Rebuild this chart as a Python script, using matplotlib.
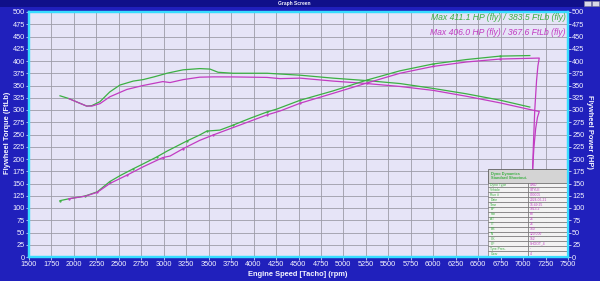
import numpy as np
import matplotlib
matplotlib.use("Agg")
from matplotlib import pyplot as plt
from matplotlib.patches import Rectangle

plt.rcParams['font.family'] = ['Liberation Sans', 'DejaVu Sans']

# green run (max 411.1 HP / 383.5 FtLb)
g_tq_rpm = [1845, 1950, 2050, 2142, 2200, 2290, 2400, 2513, 2660, 2770, 2900, 3036,
            3215, 3400, 3515, 3605, 3770, 4150, 4520, 4885, 5260, 5630, 6000, 6370,
            6745, 7075]
g_tq = [329, 323, 315, 308, 309, 317, 337, 351, 359, 362, 368, 375,
        382, 384.5, 383.5, 377, 375, 375, 371, 365, 360, 354, 344, 333,
        320, 306]
g_hp_rpm = [1845, 1950, 2125, 2260, 2400, 2513, 2660, 2770, 2920, 3036, 3260, 3400,
            3480, 3625, 3770, 3960, 4150, 4260, 4520, 4885, 5260, 5630, 6000, 6370,
            6745, 7075]
g_hp = [115, 119, 124.5, 133, 154, 166, 180, 190, 204, 216, 237, 249,
        257, 259, 269, 283, 296, 302, 320, 339, 361, 380, 394, 403,
        410, 411.1]

# magenta run (max 406.0 HP / 367.6 FtLb)
m_tq_rpm = [1945, 2050, 2142, 2200, 2290, 2400, 2590, 2770, 2990, 3070, 3215, 3400,
            3550, 3770, 4150, 4295, 4520, 4885, 5260, 5630, 6000, 6370, 6745, 7075,
            7180, 7160, 7140, 7120, 7100, 7090]
m_tq = [323, 315, 308, 308, 313, 327, 342, 350, 358, 356, 362, 367,
        367.6, 367.5, 366.5, 364, 365, 359, 354, 348, 340, 328, 314.5, 301,
        297, 285, 262, 222, 160, 100]
m_hp_rpm = [1945, 2125, 2260, 2400, 2590, 2770, 2990, 3070, 3215, 3400, 3550, 3770,
            4150, 4295, 4520, 4885, 5260, 5630, 6000, 6370, 6745, 7075, 7180, 7165,
            7150, 7130, 7115, 7105, 7100]
m_hp = [119, 124, 132, 150, 167, 184, 203, 206, 221, 238, 249, 264,
        290, 298, 314, 334, 355, 375, 389, 398, 404, 405.5, 406, 390,
        360, 300, 230, 170, 100]

legend_lines = ["Max 411.1 HP (fly) / 383.5 FtLb (fly)",
                "Max 406.0 HP (fly) / 367.6 FtLb (fly)"]

table_labels = ["Dyno Type", "Vehicle", "Run #", "Date", "Time", "BP", "Hm", "AT",
                "IT", "BB", "IN", "CK", "CF", "Tyre Pres.", "Gear"]
table_values = ["4WD", "STYLE", "000005", "2024-06-21", "15:49:25", "1013.2", "60",
                "26", "26", "150", "120.000", "152", "SHOOT_4", "-", "4"]

green = '#3cb043'
magenta = '#c23cc2'
bg_blue = '#2020bc'
cyan = '#38dcff'
white = '#f4f4ff'

fig = plt.figure(figsize=(6, 2.81), dpi=100, facecolor=bg_blue)
ax = fig.add_axes([29/600, 24/281, 539/600, 245/281])
ax.set_facecolor('#e6e4f7')

# title bar
fig.patches.append(Rectangle((0, 274/281), 1, 7/281, transform=fig.transFigure,
                             facecolor='#10108a', edgecolor='none', zorder=0))
fig.text(0.49, 277.5/281, "Graph Screen", color=white, fontsize=3.5,
         ha='center', va='center', fontweight='bold')
for xb in [584, 592]:
    fig.patches.append(Rectangle((xb/600, 275/281), 7/600, 5.5/281,
                                 transform=fig.transFigure, facecolor='#d8d8e8',
                                 edgecolor='#8080a0', lw=0.4))

ax.plot(g_tq_rpm, g_tq, color=green, lw=0.9, zorder=3)
ax.plot(m_tq_rpm, m_tq, color=magenta, lw=0.9, zorder=3)
ax.plot(g_hp_rpm, g_hp, color=green, lw=0.9, zorder=3, marker='.', ms=1.2,
        markevery=2)
ax.plot(m_hp_rpm, m_hp, color=magenta, lw=0.9, zorder=3, marker='.', ms=1.2,
        markevery=list(range(0, 22, 2)))

ax.set_xlim(1500, 7500)
ax.set_ylim(0, 500)
ax.set_xticks(np.arange(1500, 7501, 250))
ax.set_yticks(np.arange(0, 501, 25))
ax.grid(True, color='#9c9ca8', lw=0.6)
ax.set_axisbelow(True)
ax.tick_params(colors=white, labelsize=5.3, length=2, width=0.5, pad=1)
for sp in ax.spines.values():
    sp.set_color(cyan)
    sp.set_linewidth(1.6)

ax2 = ax.twinx()
ax2.set_ylim(0, 500)
ax2.set_yticks(np.arange(0, 501, 25))
ax2.tick_params(colors=white, labelsize=5.3, length=2, width=0.5, pad=1)
for sp in ax2.spines.values():
    sp.set_color(cyan)
    sp.set_linewidth(1.6)

fig.text(8/600, 0.528, "Flywheel Torque (FtLb)", rotation=90, color=white,
         fontsize=5.4, fontweight='bold', ha='center', va='center')
fig.text(589/600, 0.53, "Flywheel Power (HP)", rotation=-90, color=white,
         fontsize=5.4, fontweight='bold', ha='center', va='center')
fig.text(298/600, 1 - 274/281, "Engine Speed [Tacho] (rpm)", color=white,
         fontsize=5.4, fontweight='bold', ha='center', va='center')

ax.text(0.996, 0.978, legend_lines[0], transform=ax.transAxes, color=green,
        fontsize=6.2, style='italic', ha='right', va='center')
ax.text(0.996, 0.918, legend_lines[1], transform=ax.transAxes, color=magenta,
        fontsize=6.2, style='italic', ha='right', va='center')

# info table
x0, x1 = 0.852, 0.998
y_top, y_bot = 0.359, 0.004
head_h = 0.055
col_split = 0.925
ax.add_patch(Rectangle((x0, y_top - head_h), x1 - x0, head_h, transform=ax.transAxes,
                       facecolor='#d4d4d4', edgecolor='#606060', lw=0.6, zorder=5))
ax.text(x0 + 0.006, y_top - head_h/2, "Dyno Dynamics\nStandard Shootout.",
        transform=ax.transAxes, color=green, fontsize=2.8, fontweight='bold',
        ha='left', va='center', linespacing=1.0, zorder=6)
row_h = (y_top - head_h - y_bot) / len(table_labels)
for i, (lab, val) in enumerate(zip(table_labels, table_values)):
    yr = y_top - head_h - (i + 1) * row_h
    ax.add_patch(Rectangle((x0, yr), col_split - x0, row_h, transform=ax.transAxes,
                           facecolor='#f2f2f2', edgecolor='#606060', lw=0.4, zorder=5))
    ax.add_patch(Rectangle((col_split, yr), x1 - col_split, row_h, transform=ax.transAxes,
                           facecolor='#f2f2f2', edgecolor='#606060', lw=0.4, zorder=5))
    ax.text(x0 + 0.004, yr + row_h/2, lab, transform=ax.transAxes, color=green,
            fontsize=2.4, ha='left', va='center', zorder=6)
    ax.text(col_split + 0.004, yr + row_h/2, val, transform=ax.transAxes, color=magenta,
            fontsize=2.4, ha='left', va='center', zorder=6)

fig.savefig("out.png", dpi=100, facecolor=fig.get_facecolor())
